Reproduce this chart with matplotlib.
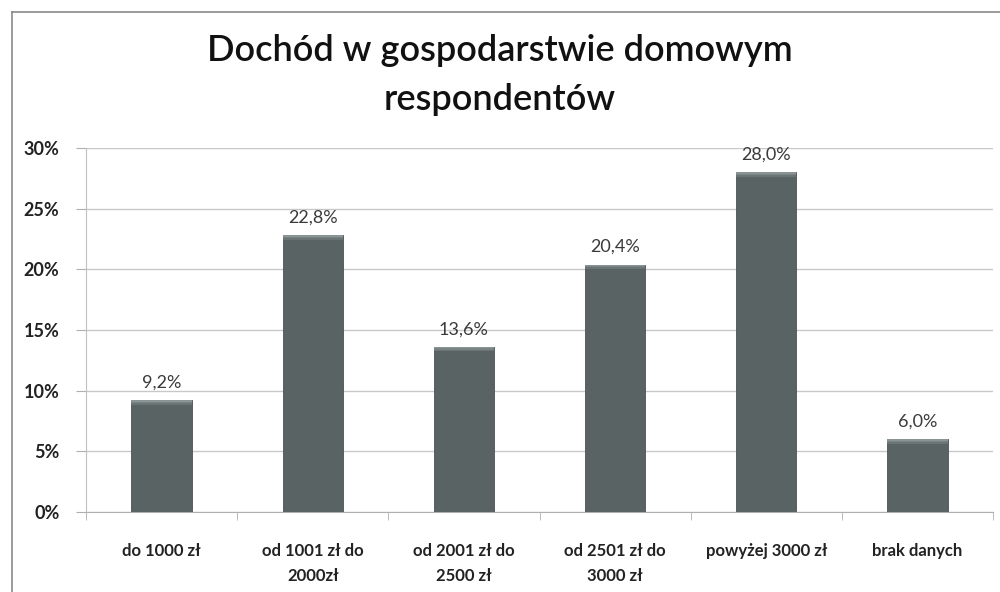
import matplotlib
matplotlib.use("Agg")
import matplotlib.pyplot as plt
from matplotlib.patches import Rectangle
from matplotlib.lines import Line2D
import numpy as np

categories = ["do 1000 zł", "od 1001 zł do\n2000zł", "od 2001 zł do\n2500 zł",
              "od 2501 zł do\n3000 zł", "powyżej 3000 zł", "brak danych"]
values = [9.2, 22.8, 13.6, 20.4, 28.0, 6.0]
yticks = [0, 5, 10, 15, 20, 25, 30]
title = "Dochód w gospodarstwie domowym\nrespondentów"

plt.rcParams['font.family'] = ['Lato', 'DejaVu Sans']

fig = plt.figure(figsize=(10, 5.92), dpi=100)
fig.patch.set_facecolor("white")

# outer chart frame
fig.add_artist(Line2D([0.012, 0.012], [0.0, 1 - 12/592], transform=fig.transFigure, color="#8a8a8a", lw=1.2))
fig.add_artist(Line2D([0.012, 1.0], [1 - 12/592, 1 - 12/592], transform=fig.transFigure, color="#8a8a8a", lw=1.2))

ax = fig.add_axes([0.086, 0.135, 0.907, 0.615])
x = np.arange(len(categories))
bars = ax.bar(x, values, width=0.4, color="#5a6363", edgecolor="#4a5252", linewidth=0.6, zorder=3)
# top bevel highlight (soft gradient)
for b in bars:
    h = b.get_height()
    steps = [("#8a9494", 0.12), ("#7a8484", 0.12), ("#6a7474", 0.12)]
    y0 = h
    for c, d in steps:
        ax.add_patch(Rectangle((b.get_x(), y0 - d), b.get_width(), d,
                               facecolor=c, edgecolor="none", zorder=4))
        y0 -= d

ax.set_xlim(-0.5, len(categories) - 0.5)
ax.set_ylim(0, 30)
ax.set_yticks(yticks)
ax.set_yticklabels([f"{t}%" for t in yticks], fontsize=13, fontweight="bold", color="#222222")
ax.yaxis.grid(True, color="#c8c8c8", lw=1, zorder=0)
ax.set_xticks(x)
ax.set_xticklabels(categories, fontsize=12, fontweight="bold", color="#222222", linespacing=1.75)
ax.tick_params(axis="x", length=0, pad=22)
ax.set_xticks(np.arange(-0.5, len(categories)), minor=True)
ax.tick_params(axis="x", which="minor", length=6, color="#b0b0b0")
ax.tick_params(axis="y", length=7, color="#b0b0b0", pad=12)

for s in ["top", "right"]:
    ax.spines[s].set_visible(False)
ax.spines["left"].set_color("#c0c0c0")
ax.spines["bottom"].set_color("#b0b0b0")

for xi, v in zip(x, values):
    ax.text(xi, v + 0.8, f"{v:.1f}%".replace(".", ","), ha="center", va="bottom",
            fontsize=13, color="#3a3a3a", zorder=5)

fig.text(0.5, 0.873, title, ha="center", va="center", fontsize=26, fontweight="semibold",
         color="#111111", linespacing=1.6)

fig.savefig("out.png", dpi=100, facecolor="white")
